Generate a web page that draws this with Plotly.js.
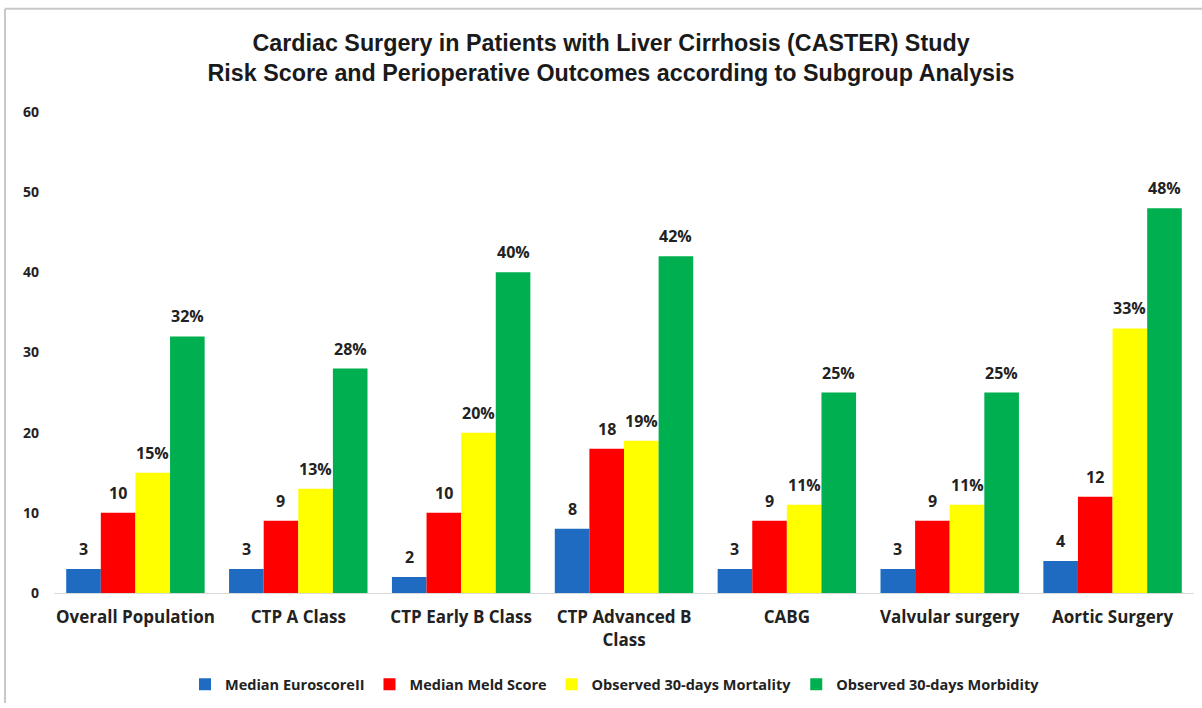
<!DOCTYPE html>
<html>
<head>
<meta charset="utf-8">
<script src="https://cdn.plot.ly/plotly-3.0.1.min.js"></script>
<style>html,body{margin:0;padding:0;background:#fff;}#chart{width:1202px;height:708px;}</style>
</head>
<body>
<div id="chart"></div>
<script>
const categories = ["Overall Population", "CTP A Class", "CTP Early B Class", "CTP Advanced B<br>Class", "CABG", "Valvular surgery", "Aortic Surgery"];
const seriesNames = ["Median EuroscoreII", "Median Meld Score", "Observed 30-days Mortality", "Observed 30-days Morbidity"];
const euroscore = [3, 3, 2, 8, 3, 3, 4];
const meld = [10, 9, 10, 18, 9, 9, 12];
const mortality = [15, 13, 20, 19, 11, 11, 33];
const morbidity = [32, 28, 40, 42, 25, 25, 48];
const suffixes = ["", "", "%", "%"];
const colors = ["#1F6BC2", "#FF0000", "#FFFF00", "#00B050"];
const yTicks = [0, 10, 20, 30, 40, 50, 60];

const W = 1202, H = 708, L = 54, R = 8, T = 112, B = 111;
const BARGAP = 0.15;
const font = "Open Sans, Liberation Sans, sans-serif";
const values = [euroscore, meld, mortality, morbidity];

const traces = values.map((v, i) => ({
  type: "bar",
  name: seriesNames[i],
  x: categories,
  y: v,
  marker: {color: colors[i]},
  hoverinfo: "x+y+name"
}));

const pw = W - L - R, ph = H - T - B;
const px = x => (x - L) / pw;
const py = y => (H - B - y) / ph;
const barW = pw / categories.length * (1 - BARGAP) / values.length;

const annotations = [];
values.forEach((v, i) => {
  v.forEach((n, j) => {
    annotations.push({
      x: categories[j], y: n, xref: "x", yref: "y",
      text: n + suffixes[i], showarrow: false,
      xanchor: "center", yanchor: "bottom",
      xshift: (i - (values.length - 1) / 2) * barW, yshift: 7,
      font: {family: font, size: 16, color: "#222", weight: "bold"}
    });
  });
});

const layout = {
  width: W, height: H,
  margin: {l: L, r: R, t: T, b: B},
  paper_bgcolor: "#fff", plot_bgcolor: "#fff",
  title: {
    text: "Cardiac Surgery in Patients with Liver Cirrhosis (CASTER) Study<br>Risk Score and Perioperative Outcomes according to Subgroup Analysis",
    font: {family: "Liberation Sans, sans-serif", size: 23.3, color: "#1a1a1a", weight: "bold"},
    x: px(611), xanchor: "center", xref: "paper",
    y: 1 - 51 / H, yanchor: "middle", yref: "container"
  },
  barmode: "group",
  bargap: BARGAP,
  bargroupgap: 0,
  showlegend: true,
  legend: {
    orientation: "h", x: px(615), xanchor: "center", y: py(689), yanchor: "middle",
    font: {family: font, size: 14.5, color: "#222", weight: "bold"},
    itemwidth: 30, traceorder: "normal"
  },
  annotations: annotations,
  xaxis: {
    type: "category",
    showgrid: false, zeroline: false,
    showline: true, linecolor: "#d9d9d9", linewidth: 1,
    ticks: "", ticklabelstandoff: 9,
    tickfont: {family: font, size: 17, color: "#222", weight: "bold"},
    fixedrange: true
  },
  yaxis: {
    range: [0, 60],
    tickvals: yTicks,
    showgrid: false, zeroline: false, showline: false,
    ticks: "", ticklabelstandoff: 14,
    tickfont: {family: font, size: 14, color: "#222", weight: "bold"},
    fixedrange: true
  },
  shapes: [
    {type: "line", xref: "paper", yref: "paper", x0: px(5), x1: px(5), y0: py(8), y1: py(708), line: {color: "#c8c8c8", width: 2}},
    {type: "line", xref: "paper", yref: "paper", x0: px(5), x1: px(1202), y0: py(8), y1: py(8), line: {color: "#c8c8c8", width: 2}}
  ]
};

Plotly.newPlot("chart", traces, layout, {displayModeBar: false, staticPlot: true});
</script>
</body>
</html>
